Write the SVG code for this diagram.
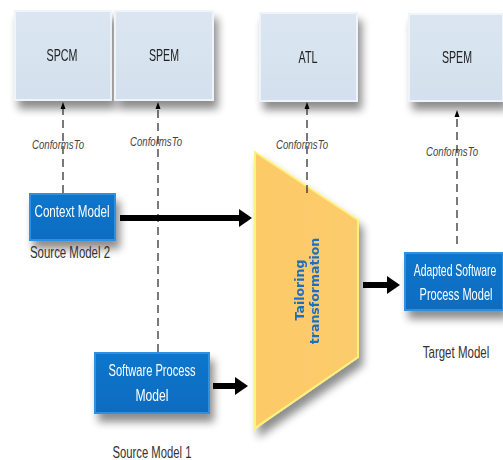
<svg xmlns="http://www.w3.org/2000/svg" width="503" height="460" viewBox="0 0 503 460">
<defs>
<filter id="sh" x="-20%" y="-20%" width="150%" height="170%">
<feGaussianBlur in="SourceAlpha" stdDeviation="4"/>
<feOffset dx="4" dy="8" result="b"/>
<feComponentTransfer><feFuncA type="linear" slope="0.45"/></feComponentTransfer>
<feMerge><feMergeNode/><feMergeNode in="SourceGraphic"/></feMerge>
</filter>
<linearGradient id="lb" x1="0" y1="0" x2="0" y2="1">
<stop offset="0" stop-color="#dbe6f1"/><stop offset="1" stop-color="#d3e0ed"/>
</linearGradient>
<linearGradient id="db" x1="0" y1="0" x2="0" y2="1">
<stop offset="0" stop-color="#0b76cc"/><stop offset="1" stop-color="#0a6cc0"/>
</linearGradient>
<linearGradient id="yg" x1="0" y1="0" x2="1" y2="0">
<stop offset="0" stop-color="#fdca68"/><stop offset="1" stop-color="#fccb6c"/>
</linearGradient>
<marker id="ah" markerWidth="8" markerHeight="8" refX="4" refY="4" orient="auto" markerUnits="userSpaceOnUse">
<path d="M0,1.5 L7,4 L0,6.5 Z" fill="#000"/>
</marker>
<marker id="big" markerWidth="14" markerHeight="18" refX="1" refY="9" orient="auto" markerUnits="userSpaceOnUse">
<path d="M0,0 L13,9 L0,18 Z" fill="#000"/>
</marker>
</defs>
<style>
.meta{fill:url(#lb);stroke:#eef4fa;stroke-width:2}
.model{fill:url(#db);stroke:#2e90e2;stroke-width:2}
.mt{font-family:"Liberation Sans",sans-serif;font-size:17px;fill:#222;text-anchor:middle}
.wt{font-family:"Liberation Sans",sans-serif;font-size:16px;fill:#fff;text-anchor:middle}
.lab{font-family:"Liberation Sans",sans-serif;font-size:16px;fill:#333;text-anchor:middle}
.ct{font-family:"Liberation Sans",sans-serif;font-size:13px;font-style:italic;fill:#444;text-anchor:middle}
.dash{stroke:#222;stroke-width:1.2;stroke-dasharray:8,5;fill:none;marker-end:url(#ah)}
.thick{stroke:#000;stroke-width:6;fill:none;marker-end:url(#big)}
</style>
<rect width="503" height="460" fill="#fff"/>
<g id="spcm" filter="url(#sh)"><rect class="meta" x="15" y="11" width="96" height="89"/><text class="mt" x="62" y="61" textLength="31" lengthAdjust="spacingAndGlyphs">SPCM</text></g>
<g id="spem1" filter="url(#sh)"><rect class="meta" x="115" y="11" width="98" height="89"/><text class="mt" x="164" y="61" textLength="30" lengthAdjust="spacingAndGlyphs">SPEM</text></g>
<g id="atl" filter="url(#sh)"><rect class="meta" x="260" y="13" width="97" height="88"/><text class="mt" x="308" y="63" textLength="19" lengthAdjust="spacingAndGlyphs">ATL</text></g>
<g id="spem2" filter="url(#sh)"><rect class="meta" x="409" y="14" width="94" height="87"/><text class="mt" x="457" y="63" textLength="30" lengthAdjust="spacingAndGlyphs">SPEM</text></g>
<g id="tailoring" filter="url(#sh)">
<path d="M255,152 L358,220 L358,357 L255,428 Z" fill="url(#yg)" stroke="#fff27a" stroke-width="2"/>
<text transform="translate(300,290) rotate(-90)" font-family="DejaVu Sans,Verdana,sans-serif" font-weight="bold" font-size="12.5" fill="#1f70c2" text-anchor="middle" y="4">Tailoring</text>
<text transform="translate(315,291) rotate(-90)" font-family="DejaVu Sans,Verdana,sans-serif" font-weight="bold" font-size="12.5" fill="#1f70c2" text-anchor="middle" y="4">transformation</text>
</g>
<g id="context" filter="url(#sh)"><rect class="model" x="30" y="194" width="85" height="46"/><text class="wt" x="72" y="217" textLength="75" lengthAdjust="spacingAndGlyphs">Context Model</text></g>
<g id="spm" filter="url(#sh)"><rect class="model" x="95" y="353" width="114" height="60"/><text class="wt" x="152" y="376" textLength="87" lengthAdjust="spacingAndGlyphs">Software Process</text><text class="wt" x="152" y="401" textLength="33" lengthAdjust="spacingAndGlyphs">Model</text></g>
<g id="adapted" filter="url(#sh)"><rect class="model" x="405" y="253" width="98" height="57"/><text class="wt" transform="translate(455,276) scale(0.65,1)">Adapted Software</text><text class="wt" transform="translate(456,300) scale(0.69,1)">Process Model</text></g>
<g id="labels">
<text class="lab" x="70" y="258" textLength="80" lengthAdjust="spacingAndGlyphs">Source Model 2</text>
<text class="lab" x="152" y="458" textLength="79" lengthAdjust="spacingAndGlyphs">Source Model 1</text>
<text class="lab" transform="translate(456,358) scale(0.72,1)">Target Model</text>
<text class="ct" x="58" y="149" textLength="52" lengthAdjust="spacingAndGlyphs">ConformsTo</text>
<text class="ct" x="156" y="146" textLength="52" lengthAdjust="spacingAndGlyphs">ConformsTo</text>
<text class="ct" x="302" y="149" textLength="52" lengthAdjust="spacingAndGlyphs">ConformsTo</text>
<text class="ct" x="452" y="156" textLength="52" lengthAdjust="spacingAndGlyphs">ConformsTo</text>
</g>
<g id="connectors">
<line class="dash" x1="63" y1="193" x2="63" y2="105"/>
<line class="dash" x1="158" y1="352" x2="158" y2="105"/>
<line class="dash" x1="307" y1="193" x2="307" y2="105"/>
<line class="dash" x1="457" y1="244" x2="457" y2="113"/>
<line class="thick" x1="120" y1="218" x2="240" y2="218"/>
<line class="thick" x1="213" y1="386" x2="236" y2="386"/>
<line class="thick" x1="363" y1="285" x2="388" y2="285"/>
</g>
</svg>
